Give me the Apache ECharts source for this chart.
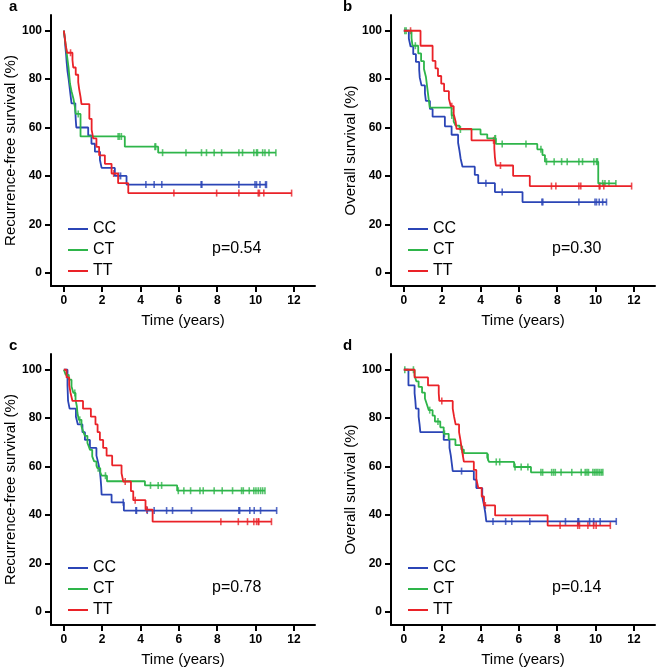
<!DOCTYPE html>
<html>
<head>
<meta charset="utf-8">
<script src="https://cdn.jsdelivr.net/npm/echarts@6/dist/echarts.min.js"></script>
<style>
  html,body{margin:0;padding:0;background:#fff;}
  #km{width:661px;height:672px;}
</style>
</head>
<body>
<div id="km"></div>
<script>
  // groups, ticks and labels
  var groups = ['CC', 'CT', 'TT'];
  var xTicks = [0, 2, 4, 6, 8, 10, 12];
  var yTicks = [0, 20, 40, 60, 80, 100];
  var panelLetters = ['a', 'b', 'c', 'd'];
  var yNames = ['Recurrence-free survival (%)', 'Overall survival (%)', 'Recurrence-free survival (%)', 'Overall survival (%)'];
  var pValues = ['p=0.54', 'p=0.30', 'p=0.78', 'p=0.14'];

  // a: recurrence-free survival  [time (years), survival %] at each drop; censor times
  var aCC = [[0,100],[0.05,96.7],[0.08,93.3],[0.12,90],[0.15,86.7],[0.19,83.3],[0.25,80],[0.3,76.7],[0.35,73.3],[0.4,70],[0.6,66.7],[0.62,63.3],[0.65,60],[1.27,56.7],[1.44,53.3],[1.62,50],[1.88,46.7],[1.97,43.3],[2.66,40],[3.27,36.4]];
  var aCCcens = [2.86, 2.96, 4.28, 4.71, 5.11, 7.16, 7.2, 9.13, 9.97, 10.05, 10.23, 10.52, 10.57];
  var aCT = [[0,100],[0.05,96.9],[0.1,93.8],[0.15,90.6],[0.2,87.5],[0.25,84.4],[0.32,78.1],[0.4,75],[0.5,71.9],[0.57,68.8],[0.62,65.6],[0.87,56.3],[3.18,52.1],[4.92,49.6]];
  var aCTcens = [0.75, 2.83, 2.9, 3.0, 4.75, 4.79, 5.15, 6.37, 7.18, 7.44, 7.84, 8.23, 9.13, 9.32, 9.91, 10.05, 10.1, 10.37, 10.49, 10.7, 11.06];
  var aTT = [[0,100],[0.05,97],[0.1,93.9],[0.17,90.9],[0.45,87.9],[0.49,84.8],[0.62,81.8],[0.75,78.8],[0.8,75.8],[0.87,72.7],[0.92,69.7],[1.33,63.6],[1.45,59.1],[1.53,55.5],[1.7,52],[1.84,48.5],[2.14,45],[2.49,41],[2.83,37],[3.36,32.9]];
  var aTTcens = [0.35, 1.88, 2.6, 5.74, 7.97, 9.13, 10.14, 10.2, 10.43, 11.88];

  // b: overall survival
  var bCC = [[0,100],[0.26,96.8],[0.35,93.5],[0.49,90.3],[0.63,87.1],[0.8,83.9],[0.83,80.6],[0.92,77.4],[1.1,74.2],[1.15,71],[1.36,67.7],[1.5,64.5],[2.14,60.5],[2.49,57],[2.83,53.7],[2.9,50.5],[2.96,47.2],[3.06,43.8],[3.7,40.4],[3.88,37],[4.75,33.3],[6.19,29.2]];
  var bCCcens = [4.28, 5.13, 7.2, 7.25, 9.13, 9.97, 10.05, 10.19, 10.37, 10.57];
  var bCT = [[0,100],[0.4,96.9],[0.45,93.8],[0.75,90.6],[0.9,87.4],[1.05,84.2],[1.15,81],[1.2,77.8],[1.25,74.6],[1.3,71.4],[1.35,68.2],[2.49,65],[2.6,62.4],[2.7,60.8],[2.9,59.2],[4.0,57.2],[4.35,55.5],[4.8,53.2],[6.96,51],[7.23,48.6],[7.36,45.9],[10.14,36.9]];
  var bCTcens = [0.05, 0.12, 0.6, 2.5, 2.95, 4.75, 4.78, 5.13, 6.37, 7.15, 7.44, 7.84, 8.23, 8.52, 9.13, 9.32, 9.91, 10.05, 10.1, 10.37, 10.49, 10.7, 11.06];
  var bTT = [[0,100],[0.87,93.8],[1.5,87.5],[1.65,84.4],[1.78,81.3],[1.95,78.1],[2.1,75],[2.35,71.9],[2.45,68.8],[2.6,65.6],[2.7,62.5],[2.75,59.4],[3.53,54.7],[4.72,51.2],[4.75,47.7],[4.8,44.3],[5.7,40],[6.57,35.8]];
  var bTTcens = [0.35, 2.5, 4.68, 5.04, 7.7, 7.93, 9.13, 9.23, 10.19, 10.23, 10.43, 11.88];

  // c: recurrence-free survival
  var cCC = [[0,100],[0.19,93.5],[0.22,87.1],[0.3,83.9],[0.63,80.6],[0.73,77.4],[0.97,74.2],[1.1,71],[1.36,67.7],[1.7,64.5],[1.8,61.3],[1.88,58.1],[1.92,54.8],[1.95,51.6],[1.97,48.4],[2.49,45.2],[3.13,41.8]];
  var cCCcens = [3.1, 3.76, 3.79, 4.35, 4.71, 5.36, 5.67, 6.66, 9.13, 9.17, 9.7, 9.93, 10.26, 11.1];
  var cCT = [[0,100],[0.1,97.9],[0.26,95.9],[0.4,93.1],[0.5,90.4],[0.61,87.6],[0.68,84.8],[0.71,82.1],[0.78,79.3],[0.92,76.6],[1.0,74.6],[1.1,72.7],[1.23,69.7],[1.3,68.3],[1.36,66.9],[1.48,64.2],[1.58,62.1],[1.7,60.3],[1.75,59.3],[1.9,57.7],[1.97,56.2],[2.25,53.9],[4.23,52.2],[5.91,50]];
  var cCTcens = [0.57, 0.83, 1.79, 2.17, 4.52, 4.92, 5.1, 5.97, 6.26, 6.61, 7.1, 7.27, 7.84, 8.26, 8.8, 9.27, 9.36, 9.67, 9.91, 10.02, 10.14, 10.26, 10.37, 10.49];
  var cTT = [[0,100],[0.14,96.8],[0.28,93.6],[0.35,90.4],[0.45,87.1],[1.0,83.9],[1.41,80.6],[1.65,77.4],[1.76,74.2],[1.88,71],[2.05,67.7],[2.23,64.5],[2.52,60.5],[3.01,57.2],[3.1,53.8],[3.5,49.8],[3.62,46.1],[4.26,42.2],[4.63,37.2]];
  var cTTcens = [3.2, 3.72, 4.33, 8.19, 9.1, 9.58, 9.91, 10.05, 10.14, 10.17, 10.83];

  // d: overall survival
  var dCC = [[0,100],[0.24,93.5],[0.56,90.3],[0.6,87.1],[0.63,83.9],[0.77,80.6],[0.82,77.4],[0.86,74.2],[2.08,71],[2.38,67.7],[2.45,64.5],[2.5,61.3],[2.55,58.1],[3.65,54.6],[3.78,51.1],[4.09,47.6],[4.18,44.1],[4.25,40.7],[4.3,37.3]];
  var dCCcens = [3.01, 4.65, 5.31, 5.63, 6.57, 8.43, 9.08, 9.12, 9.69, 9.9, 10.24, 11.08];
  var dCT = [[0,100],[0.56,97.6],[0.65,95.2],[0.77,92.9],[0.95,90.5],[1.1,88.1],[1.2,85.7],[1.3,83.3],[1.5,81],[1.62,78.6],[1.9,76.2],[2.08,73.5],[2.34,71.2],[2.69,68.8],[3.0,67],[3.13,65.5],[4.35,63.8],[4.44,61.9],[5.75,59.8],[6.63,57.6]];
  var dCTcens = [0.05, 0.5, 1.35, 1.78, 2.12, 3.05, 4.4, 4.82, 5.0, 5.8, 6.12, 6.47, 7.15, 7.24, 7.71, 7.81, 7.9, 8.2, 8.76, 9.25, 9.46, 9.55, 9.63, 9.86, 9.95, 10.03, 10.12, 10.21, 10.3, 10.38];
  var dTT = [[0,100],[0.56,96.8],[1.26,93.5],[1.82,90.3],[1.85,87.1],[2.55,83.9],[2.62,80.6],[2.7,77.4],[2.88,74.2],[2.95,71],[3.05,65.8],[3.13,62],[3.65,58.6],[3.78,54.9],[3.88,51.2],[4.06,47.6],[4.18,43.9],[4.76,39.8],[7.5,35.6]];
  var dTTcens = [1.98, 3.08, 4.25, 8.15, 9.07, 9.16, 9.6, 9.9, 10.03, 10.77];

  var panels = [
    {curves: [aCC, aCT, aTT], cens: [aCCcens, aCTcens, aTTcens]},
    {curves: [bCC, bCT, bTT], cens: [bCCcens, bCTcens, bTTcens]},
    {curves: [cCC, cCT, cTT], cens: [cCCcens, cCTcens, cTTcens]},
    {curves: [dCC, dCT, dTT], cens: [dCCcens, dCTcens, dTTcens]}
  ];

  var colors = ['#2b45b6', '#2eb54a', '#ea2228'];
  var fontFam = '"Liberation Sans", Arial, sans-serif';
  var gridPos = [[51, 15], [391, 15], [51, 354], [391, 354]];

  // survival value of a curve at time t (step function)
  function survAt(curve, t) {
    var s = curve[0][1];
    for (var i = 0; i < curve.length; i++) {
      if (curve[i][0] <= t) { s = curve[i][1]; }
    }
    return s;
  }

  var grids = [], xAxes = [], yAxes = [], series = [], legends = [], graphics = [];

  panels.forEach(function (p, i) {
    var left = gridPos[i][0], top = gridPos[i][1];
    grids.push({left: left, top: top, width: 264, height: 271, containLabel: false});
    xAxes.push({
      type: 'value', gridIndex: i, min: -0.67, max: 13.1,
      name: 'Time (years)', nameLocation: 'middle', nameGap: 27,
      nameTextStyle: {fontSize: 15, color: '#000', fontFamily: fontFam},
      axisLine: {onZero: false, lineStyle: {color: '#000', width: 2}},
      axisTick: {customValues: xTicks, length: 6, lineStyle: {color: '#000', width: 2}},
      axisLabel: {customValues: xTicks, margin: 9, fontSize: 12, fontWeight: 'bold', color: '#000', fontFamily: fontFam},
      splitLine: {show: false}
    });
    yAxes.push({
      type: 'value', gridIndex: i, min: -5.5, max: 106.5,
      name: yNames[i], nameLocation: 'middle', nameGap: 33, nameRotate: 90,
      nameTextStyle: {fontSize: 15, color: '#000', fontFamily: fontFam},
      axisLine: {onZero: false, lineStyle: {color: '#000', width: 2}},
      axisTick: {customValues: yTicks, length: 6, lineStyle: {color: '#000', width: 2}},
      axisLabel: {customValues: yTicks, margin: 9, fontSize: 12, fontWeight: 'bold', color: '#000', fontFamily: fontFam},
      splitLine: {show: false}
    });

    p.curves.forEach(function (curve, g) {
      var cens = p.cens[g];
      var lineData = curve.slice();
      var last = curve[curve.length - 1];
      var lastCens = Math.max.apply(null, cens);
      if (lastCens > last[0]) { lineData.push([lastCens, last[1]]); }
      series.push({
        name: groups[g], type: 'line', step: 'end',
        xAxisIndex: i, yAxisIndex: i,
        symbol: 'none', color: colors[g],
        lineStyle: {width: 1.8, color: colors[g]},
        data: lineData, silent: true, animation: false
      });
      series.push({
        name: groups[g] + '-censored', type: 'scatter',
        xAxisIndex: i, yAxisIndex: i,
        symbol: 'rect', symbolSize: [1.6, 7],
        itemStyle: {color: colors[g]},
        data: cens.map(function (t) { return [t, survAt(curve, t)]; }),
        silent: true, animation: false
      });
    });

    legends.push({
      data: groups, orient: 'vertical', left: left + 12, top: top + 201,
      icon: 'rect', itemWidth: 20, itemHeight: 2, itemGap: 5,
      selectedMode: false,
      textStyle: {fontSize: 16, color: '#000', fontFamily: fontFam}
    });

    graphics.push({
      type: 'text', left: left + 161, top: top + 226,
      style: {text: pValues[i], fontSize: 16, fill: '#000', fontFamily: fontFam}
    });
    graphics.push({
      type: 'text', left: (i % 2 === 0 ? 9 : 343), top: top - 16,
      style: {text: panelLetters[i], fontSize: 15, fontWeight: 'bold', fill: '#000', fontFamily: fontFam}
    });
  });

  var kmChart = echarts.init(document.getElementById('km'));
  var kmOption = {
    backgroundColor: '#fff',
    animation: false,
    grid: grids,
    xAxis: xAxes,
    yAxis: yAxes,
    legend: legends,
    graphic: graphics,
    series: series
  };
  kmChart.setOption(kmOption);
</script>
</body>
</html>
